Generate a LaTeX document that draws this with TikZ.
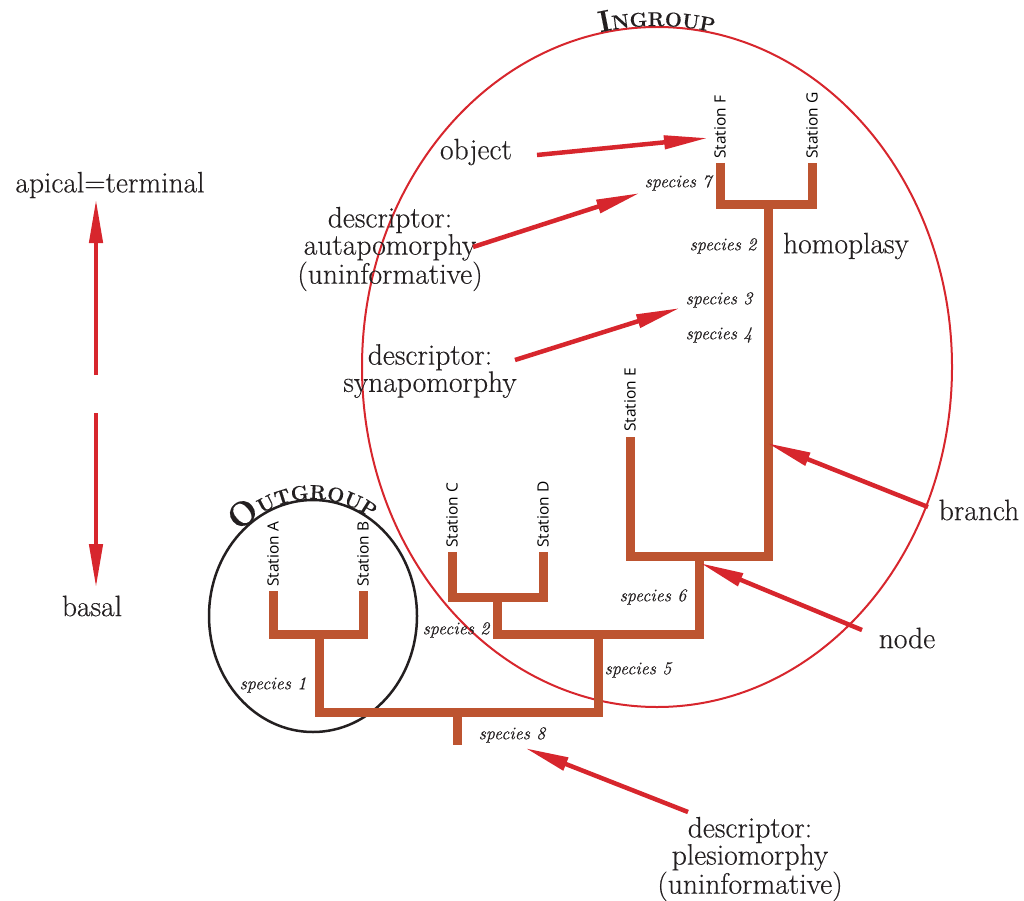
\documentclass[tikz,border=0pt]{standalone}
\usepackage{fontspec}
\setmainfont{Latin Modern Roman}[FakeBold=0.35]
\setsansfont{Open Sans}
\usetikzlibrary{arrows.meta,decorations.text}
\definecolor{treebrown}{RGB}{189,84,48}
\definecolor{arrred}{RGB}{215,38,45}
\definecolor{txt}{RGB}{35,31,32}
\begin{document}
\begin{tikzpicture}[x=1pt,y=-1pt,
  tree/.style={draw=treebrown, line width=9pt, line cap=butt, line join=miter},
  redarrow/.style={draw=arrred, line width=4.5pt, -{Triangle[length=44pt,width=13pt]}},
  big/.style={font=\fontsize{29.5}{24.5}\selectfont, text=txt, align=center, inner sep=0pt},
  spec/.style={font=\fontsize{18}{20}\selectfont\itshape, text=txt, inner sep=0pt},
  station/.style={font=\sffamily\fontsize{15.5}{18}\selectfont, text=black, rotate=90, anchor=west, inner sep=0pt},
]
\useasboundingbox (0,0) rectangle (1024,901);

% group outlines
\draw[arrred, line width=2pt] (657,367) ellipse[x radius=295, y radius=340];
\draw[txt, line width=2.5pt] (313,616) ellipse[x radius=104, y radius=116];

% titles along the outlines
\path[decorate, decoration={text along path, text align=center, text color=txt,
  text={|\bfseries\fontsize{30}{30}\selectfont|I|\bfseries\fontsize{20}{20}\selectfont|NGROUP}}]
  (531.9,58.0) arc[start angle=-115, end angle=-65, x radius=296, y radius=341];
\path[decorate, decoration={text along path, text align=center, text color=txt,
  text={|\bfseries\fontsize{34}{34}\selectfont|O|\bfseries\fontsize{20}{20}\selectfont|UTGROUP}}]
  (208.4,605.8) arc[start angle=-175, end angle=-15, x radius=105, y radius=117];

% tree
\draw[tree] (273,591) -- (273,634) -- (363,634) -- (363,591);
\draw[tree] (319,634) -- (319,712) -- (598,712) -- (598,634);
\draw[tree] (457,712) -- (457,745);
\draw[tree] (452,552) -- (452,597) -- (543,597) -- (543,552);
\draw[tree] (497,597) -- (497,634) -- (699,634) -- (699,556);
\draw[tree] (630,437) -- (630,556) -- (768,556) -- (768,205);
\draw[tree] (720,163) -- (720,205) -- (812,205) -- (812,163);

% station labels
\node[station] (stA) at (273,587) {Station A};
\node[station] (stB) at (363,587) {Station B};
\node[station] (stC) at (452,548) {Station C};
\node[station] (stD) at (543,548) {Station D};
\node[station] (stE) at (630,432) {Station E};
\node[station] (stF) at (720,159) {Station F};
\node[station] (stG) at (812,159) {Station G};

% species labels
\node[spec] (sp7) at (678,183) {species 7};
\node[spec] (sp2a) at (723,246) {species 2};
\node[spec] (sp3) at (719,300) {species 3};
\node[spec] (sp4) at (719,335) {species 4};
\node[spec] (sp6) at (653,597) {species 6};
\node[spec] (sp2b) at (456,630) {species 2};
\node[spec] (sp5) at (638,670) {species 5};
\node[spec] (sp1) at (273,685) {species 1};
\node[spec] (sp8) at (512,735) {species 8};

% big labels
\node[big] (apical) at (110,185) {apical=terminal};
\node[big] (basal) at (92,606) {basal};
\node[big] (object) at (476,152) {object};
\node[big] (autapo) at (390,249) {descriptor:\\autapomorphy\\(uninformative)};
\node[big] (synapo) at (430,371) {descriptor:\\synapomorphy};
\node[big] (homopl) at (846,246) {homoplasy};
\node[big] (branch) at (979,510) {branch};
\node[big] (nodel) at (907,638) {node};
\node[big] (plesio) at (750,859) {descriptor:\\plesiomorphy\\(uninformative)};

% arrow end points
\coordinate (upTail) at (96,375);   \coordinate (upTip) at (96,199);
\coordinate (dnTail) at (96,413);   \coordinate (dnTip) at (96,588);
\coordinate (objTail) at (537,155); \coordinate (objTip) at (708,138);
\coordinate (autTail) at (473,247); \coordinate (autTip) at (640,193);
\coordinate (synTail) at (515,360); \coordinate (synTip) at (680,308);
\coordinate (brTail) at (928,507);  \coordinate (brTip) at (767,443);
\coordinate (ndTail) at (862,630);  \coordinate (ndTip) at (700,563);
\coordinate (plTail) at (688,812);  \coordinate (plTip) at (525,748);

\draw[redarrow] (upTail) -- (upTip);
\draw[redarrow] (dnTail) -- (dnTip);
\draw[redarrow] (objTail) -- (objTip);
\draw[redarrow] (autTail) -- (autTip);
\draw[redarrow] (synTail) -- (synTip);
\draw[redarrow] (brTail) -- (brTip);
\draw[redarrow] (ndTail) -- (ndTip);
\draw[redarrow] (plTail) -- (plTip);
\end{tikzpicture}
\end{document}
